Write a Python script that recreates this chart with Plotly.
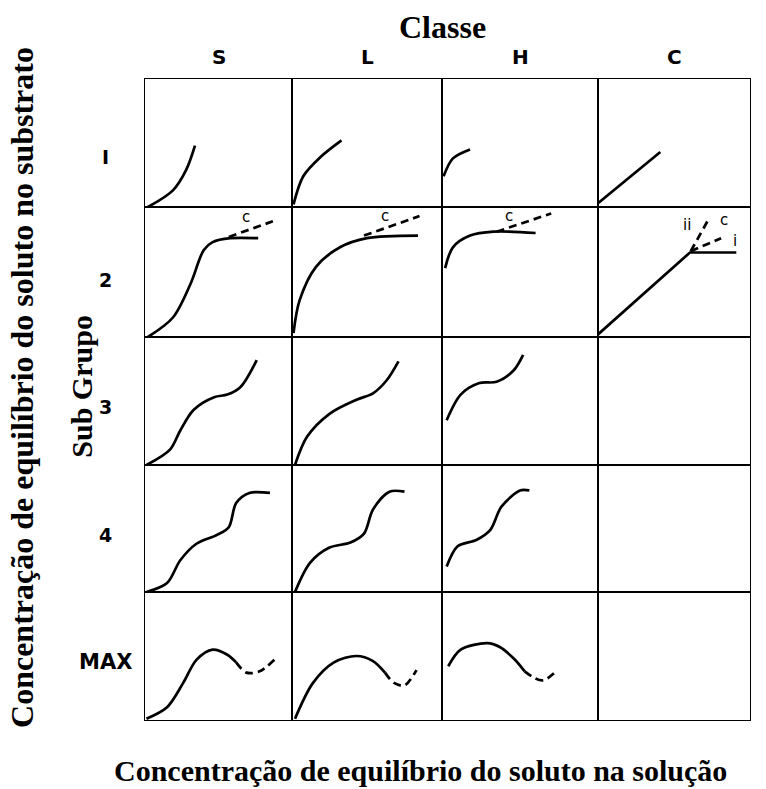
import plotly.graph_objects as go
from plotly.subplots import make_subplots

# Isotherm classes (columns) and sub-groups (rows)
classes = ["S", "L", "H", "C"]
subgroups = ["I", "2", "3", "4", "MAX"]

# Curve control points in cell-local units (0..1 on both axes)
s1_x = [0.02, 0.19, 0.28, 0.34]
s1_y = [0.00, 0.13, 0.29, 0.48]
l1_x = [0.01, 0.075, 0.19, 0.33]
l1_y = [0.02, 0.24, 0.39, 0.52]
h1_x = [0.01, 0.07, 0.18]
h1_y = [0.24, 0.38, 0.45]
c1_x = [0.00, 0.41]
c1_y = [0.03, 0.43]

s2_x = [0.02, 0.19, 0.31, 0.40, 0.46, 0.58, 0.77]
s2_y = [0.00, 0.15, 0.41, 0.67, 0.73, 0.76, 0.76]
s2c_x = [0.57, 0.87]
s2c_y = [0.77, 0.89]
l2_x = [0.01, 0.05, 0.16, 0.32, 0.50, 0.84]
l2_y = [0.03, 0.28, 0.54, 0.69, 0.76, 0.78]
l2c_x = [0.48, 0.85]
l2c_y = [0.78, 0.93]
h2_x = [0.02, 0.07, 0.18, 0.33, 0.60]
h2_y = [0.53, 0.69, 0.78, 0.81, 0.80]
h2c_x = [0.35, 0.70]
h2c_y = [0.81, 0.95]
c2_x = [0.00, 0.605, 0.91]
c2_y = [0.02, 0.65, 0.65]
c2ii_x = [0.61, 0.72]
c2ii_y = [0.66, 0.89]
c2i_x = [0.61, 0.81]
c2i_y = [0.66, 0.76]

s3_x = [0.01, 0.17, 0.24, 0.33, 0.47, 0.56, 0.65, 0.76]
s3_y = [0.00, 0.12, 0.27, 0.43, 0.53, 0.55, 0.61, 0.82]
l3_x = [0.02, 0.10, 0.25, 0.43, 0.54, 0.63, 0.71]
l3_y = [0.00, 0.22, 0.40, 0.51, 0.56, 0.66, 0.81]
h3_x = [0.03, 0.12, 0.24, 0.35, 0.46, 0.52]
h3_y = [0.35, 0.55, 0.64, 0.65, 0.74, 0.86]

s4_x = [0.01, 0.15, 0.24, 0.35, 0.49, 0.57, 0.62, 0.71, 0.85]
s4_y = [0.00, 0.07, 0.25, 0.38, 0.45, 0.51, 0.70, 0.78, 0.78]
l4_x = [0.02, 0.12, 0.25, 0.39, 0.48, 0.54, 0.65, 0.75]
l4_y = [0.00, 0.23, 0.35, 0.39, 0.46, 0.65, 0.79, 0.79]
h4_x = [0.03, 0.10, 0.22, 0.31, 0.38, 0.50, 0.56]
h4_y = [0.20, 0.36, 0.41, 0.49, 0.67, 0.80, 0.80]

s5_x = [0.01, 0.15, 0.26, 0.35, 0.46, 0.56, 0.62]
s5_y = [0.01, 0.10, 0.29, 0.47, 0.55, 0.51, 0.45]
s5d_x = [0.62, 0.69, 0.78, 0.88]
s5d_y = [0.45, 0.37, 0.38, 0.47]
l5_x = [0.02, 0.14, 0.28, 0.43, 0.54, 0.62]
l5_y = [0.01, 0.29, 0.45, 0.50, 0.46, 0.37]
l5d_x = [0.62, 0.68, 0.75, 0.83]
l5d_y = [0.37, 0.29, 0.27, 0.39]
h5_x = [0.04, 0.12, 0.29, 0.37, 0.46, 0.53]
h5_y = [0.42, 0.55, 0.60, 0.57, 0.48, 0.38]
h5d_x = [0.53, 0.59, 0.65, 0.74]
h5d_y = [0.38, 0.33, 0.31, 0.39]

# (row, col, x, y, dashed, curved)
curves = [
    (1, 1, s1_x, s1_y, False, True), (1, 2, l1_x, l1_y, False, True),
    (1, 3, h1_x, h1_y, False, True), (1, 4, c1_x, c1_y, False, False),
    (2, 1, s2_x, s2_y, False, True), (2, 1, s2c_x, s2c_y, True, False),
    (2, 2, l2_x, l2_y, False, True), (2, 2, l2c_x, l2c_y, True, False),
    (2, 3, h2_x, h2_y, False, True), (2, 3, h2c_x, h2c_y, True, False),
    (2, 4, c2_x, c2_y, False, False), (2, 4, c2ii_x, c2ii_y, True, False),
    (2, 4, c2i_x, c2i_y, True, False),
    (3, 1, s3_x, s3_y, False, True), (3, 2, l3_x, l3_y, False, True),
    (3, 3, h3_x, h3_y, False, True),
    (4, 1, s4_x, s4_y, False, True), (4, 2, l4_x, l4_y, False, True),
    (4, 3, h4_x, h4_y, False, True),
    (5, 1, s5_x, s5_y, False, True), (5, 1, s5d_x, s5d_y, True, True),
    (5, 2, l5_x, l5_y, False, True), (5, 2, l5d_x, l5d_y, True, True),
    (5, 3, h5_x, h5_y, False, True), (5, 3, h5d_x, h5d_y, True, True),
]

# Small branch labels inside the cells: (row, col, x, y, text)
branch_labels = [
    (2, 1, 0.69, 0.92, "c"), (2, 2, 0.62, 0.93, "c"), (2, 3, 0.43, 0.93, "c"),
    (2, 4, 0.585, 0.86, "ii"), (2, 4, 0.83, 0.90, "c"), (2, 4, 0.90, 0.74, "i"),
]

col_widths = [147, 150, 156, 152]
row_heights = [128, 130, 128, 127, 128]

fig = make_subplots(rows=5, cols=4, horizontal_spacing=0, vertical_spacing=0,
                    column_widths=col_widths, row_heights=row_heights)

# an empty trace in every cell so each frame is drawn
for r in range(1, 6):
    for c in range(1, 5):
        fig.add_trace(go.Scatter(x=[None], y=[None], mode="lines",
                                 hoverinfo="skip", showlegend=False), row=r, col=c)

for r, c, xs, ys, dashed, curved in curves:
    fig.add_trace(go.Scatter(
        x=xs, y=ys, mode="lines",
        line=dict(color="black", width=2.7,
                  shape="spline" if curved else "linear", smoothing=0.9,
                  dash="8px,5px" if dashed else "solid"),
        hoverinfo="skip", showlegend=False), row=r, col=c)

for r, c, x, y, t in branch_labels:
    fig.add_annotation(x=x, y=y, text=t, showarrow=False, row=r, col=c,
                       font=dict(family="DejaVu Sans", size=15, color="#000000"))

fig.update_xaxes(range=[0, 1], showline=True, mirror=True, linecolor="black",
                 linewidth=1.3, showticklabels=False, ticks="", showgrid=False,
                 zeroline=False, fixedrange=True)
fig.update_yaxes(range=[0, 1], showline=True, mirror=True, linecolor="black",
                 linewidth=1.3, showticklabels=False, ticks="", showgrid=False,
                 zeroline=False, fixedrange=True)

hdr_font = dict(family="DejaVu Sans", size=20, color="black")
for j, name in enumerate(classes):
    ax = "x" if j == 0 else f"x{j + 1}"
    fig.add_annotation(text=f"<b>{name}</b>", xref=f"{ax} domain", yref="paper",
                       x=0.5, y=1, yanchor="bottom", yshift=8,
                       showarrow=False, font=hdr_font)

row_label_pos = [0.39, 0.44, 0.45, 0.45, 0.45]
for i, name in enumerate(subgroups):
    idx = i * 4 + 1
    ay = "y" if idx == 1 else f"y{idx}"
    fig.add_annotation(text=f"<b>{name}</b>",
                       xref="paper", yref=f"{ay} domain",
                       x=0, y=row_label_pos[i], xanchor="center", xshift=-40,
                       showarrow=False,
                       font=dict(family="DejaVu Sans",
                                 size=21 if name == "MAX" else 19,
                                 color="black"))

serif = "Liberation Serif"
fig.add_annotation(text="<b>Classe</b>", xref="paper", yref="paper",
                   x=(442 - 145) / 605, y=1, yanchor="middle", yshift=52,
                   borderpad=0, showarrow=False,
                   font=dict(family=serif, size=32, color="black"))
fig.add_annotation(text="<b>Sub Grupo</b>", xref="paper", yref="paper",
                   x=0, y=0.52, xanchor="center", yanchor="middle", xshift=-63,
                   textangle=-90, borderpad=0, showarrow=False,
                   font=dict(family=serif, size=30, color="black"))
fig.add_annotation(text="<b>Concentração de equilíbrio do soluto no substrato</b>",
                   xref="paper", yref="paper", x=0, y=0.518,
                   xanchor="center", yanchor="middle", xshift=-123,
                   textangle=-90, borderpad=0, showarrow=False,
                   font=dict(family=serif, size=32, color="black"))
fig.add_annotation(text="<b>Concentração de equilíbrio do soluto na solução</b>",
                   xref="paper", yref="paper", x=(420 - 145) / 605, y=0,
                   xanchor="center", yanchor="middle", yshift=-50,
                   borderpad=0, showarrow=False,
                   font=dict(family=serif, size=30, color="black"))

fig.update_layout(width=766, height=789,
                  margin=dict(l=145, r=16, t=79, b=69),
                  paper_bgcolor="white", plot_bgcolor="white")

fig.write_html("out.html")
